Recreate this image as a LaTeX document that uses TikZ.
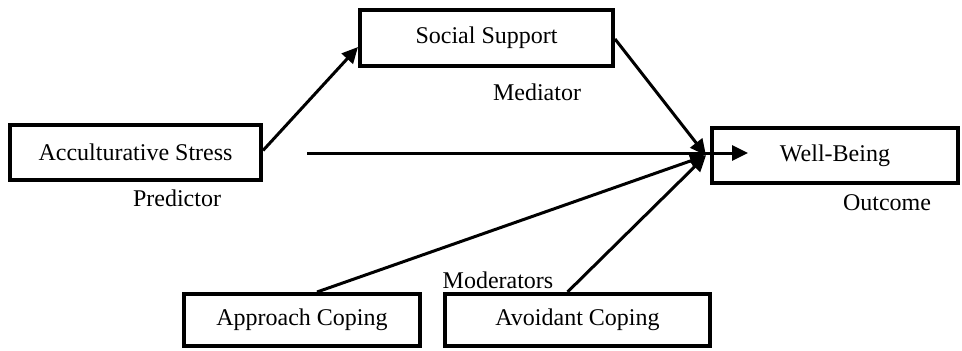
\documentclass[tikz,border=0pt]{standalone}
\usepackage{fontspec}
\setmainfont{Liberation Serif}
\usetikzlibrary{arrows.meta,calc}
\tikzset{
  box/.style={draw=black,line width=4pt,rectangle,inner sep=0pt,font=\fontsize{24}{28}\selectfont},
  lbl/.style={inner sep=0pt,font=\fontsize{24}{28}\selectfont},
  conn/.style={line width=3pt,-{Triangle[length=16pt,width=15pt]}},
  plain/.style={line width=3pt}
}
\begin{document}
\begin{tikzpicture}[x=1pt,y=-1pt]
\useasboundingbox (0,0) rectangle (962,351);
\node[box,minimum width=253pt,minimum height=56pt] (ss) at (486.5,38) {Social Support};
\node[box,minimum width=251pt,minimum height=55pt] (acc) at (135.5,152.5) {Acculturative Stress};
\node[box,minimum width=246pt,minimum height=55pt] (wb) at (835,155.5) {Well-Being};
\node[box,minimum width=236pt,minimum height=52pt] (app) at (302,320) {Approach Coping};
\node[box,minimum width=265pt,minimum height=52pt] (avo) at (577.5,320) {Avoidant Coping\hspace{28pt}};
\node[lbl] (med) at (537,92) {Mediator};
\node[lbl] (pred) at (177,198) {Predictor};
\node[lbl] (out) at (887,203) {Outcome};
\node[lbl] (mod) at (498,280) {Moderators};
\coordinate (conv) at ([xshift=-4pt]wb.west);
\coordinate (hs) at (307,153);
\coordinate (he) at (748,153);
\draw[conn] ([yshift=2pt]acc.east) -- ([yshift=-9pt]ss.west);
\draw[conn] ([yshift=-1pt]ss.east) -- (conv);
\draw[conn] (hs) -- (he);
\draw[conn] ([xshift=15pt]app.north) -- (conv);
\draw[conn] ([xshift=-10pt]avo.north) -- (conv);
\end{tikzpicture}
\end{document}
